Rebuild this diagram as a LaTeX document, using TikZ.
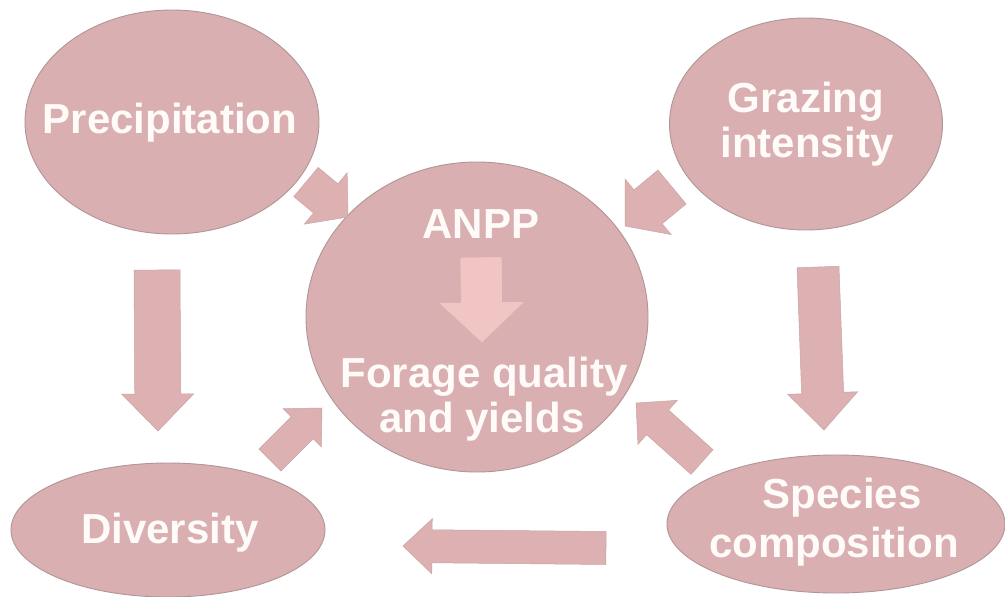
\documentclass[tikz,border=0pt]{standalone}
\usepackage{fontspec}
\setmainfont{Liberation Sans}
\usetikzlibrary{shapes.geometric,calc}
\definecolor{bubblefill}{HTML}{D9AFB1}
\definecolor{bubbleline}{HTML}{B19596}
\definecolor{arrowfill}{HTML}{DDB1B2}
\definecolor{arrowline}{HTML}{C9A3A4}
\definecolor{innerfill}{HTML}{F2C5C5}
\definecolor{innerline}{HTML}{D8AEAE}
\definecolor{textwhite}{HTML}{FFFBF8}
\tikzset{
  bubble/.style={ellipse, draw=bubbleline, line width=0.9pt, fill=bubblefill, inner sep=0pt},
  lbl/.style={text=textwhite, anchor=base, inner sep=0pt, font=\fontsize{42}{46}\selectfont\bfseries},
  blockarr/.style={fill=arrowfill, draw=arrowline, line width=0.5pt, line join=miter},
  innerarr/.style={fill=innerfill, draw=innerline, line width=0.6pt, line join=miter},
}
% #1 style, #2 tail, #3 tip, #4 shaft width, #5 head width, #6 head length
\newcommand\blockarrow[6]{%
  \coordinate (tmpH) at ($(#3)!#6!(#2)$);
  \path[#1] ($(#2)!#4/2!90:(#3)$) -- ($(tmpH)!#4/2!90:(#3)$) -- ($(tmpH)!#5/2!90:(#3)$)
    -- (#3) -- ($(tmpH)!#5/2!-90:(#3)$) -- ($(tmpH)!#4/2!-90:(#3)$)
    -- ($(#2)!#4/2!-90:(#3)$) -- cycle;}
\begin{document}
\begin{tikzpicture}[x=1pt,y=-1pt]
\useasboundingbox[fill=white] (0,0) rectangle (1005,597);

% ellipses
\node[bubble, minimum width=294pt, minimum height=224pt] (precip) at (172,122) {};
\node[bubble, minimum width=273pt, minimum height=212pt] (graz) at (806,124) {};
\node[bubble, minimum width=342pt, minimum height=310pt] (anpp) at (477,317) {};
\node[bubble, minimum width=314pt, minimum height=134pt] (div) at (168,530) {};
\node[bubble, minimum width=338pt, minimum height=138pt] (spec) at (836,524) {};

% arrow end points
\coordinate (pa1) at (306,182); \coordinate (pa2) at (348,217);
\coordinate (ga1) at (672,187); \coordinate (ga2) at (625,226);
\coordinate (pd1) at (157,270); \coordinate (pd2) at (158,431);
\coordinate (gd1) at (818,267); \coordinate (gd2) at (824,430);
\coordinate (da1) at (270,460); \coordinate (da2) at (322,408);
\coordinate (sa1) at (702,462); \coordinate (sa2) at (636,403);
\coordinate (sd1) at (606,548); \coordinate (sd2) at (403,546);
\coordinate (ia1) at (481,257); \coordinate (ia2) at (482,343);

\blockarrow{blockarr}{pa1}{pa2}{38pt}{67pt}{29pt}
\blockarrow{blockarr}{ga1}{ga2}{44pt}{72pt}{30pt}
\blockarrow{blockarr}{pd1}{pd2}{46pt}{72pt}{37pt}
\blockarrow{blockarr}{gd1}{gd2}{42pt}{70pt}{37pt}
\blockarrow{blockarr}{da1}{da2}{31pt}{54pt}{28pt}
\blockarrow{blockarr}{sa1}{sa2}{33pt}{59pt}{29pt}
\blockarrow{blockarr}{sd1}{sd2}{33pt}{55pt}{29pt}
\blockarrow{innerarr}{ia1}{ia2}{42pt}{87pt}{41pt}

% labels
\node[lbl] (tprecip) at (170,133) {Precipitation};
\node[lbl] (tgraz1) at (806,112) {Grazing};
\node[lbl] (tgraz2) at (807,157) {intensity};
\node[lbl] (tanpp) at (481,238) {ANPP};
\node[lbl] (tfor1) at (484,387) {Forage quality};
\node[lbl] (tfor2) at (482,432) {and yields};
\node[lbl] (tdiv) at (170,543) {Diversity};
\node[lbl] (tspec1) at (842,508) {Species};
\node[lbl] (tspec2) at (834,557) {composition};
\end{tikzpicture}
\end{document}
